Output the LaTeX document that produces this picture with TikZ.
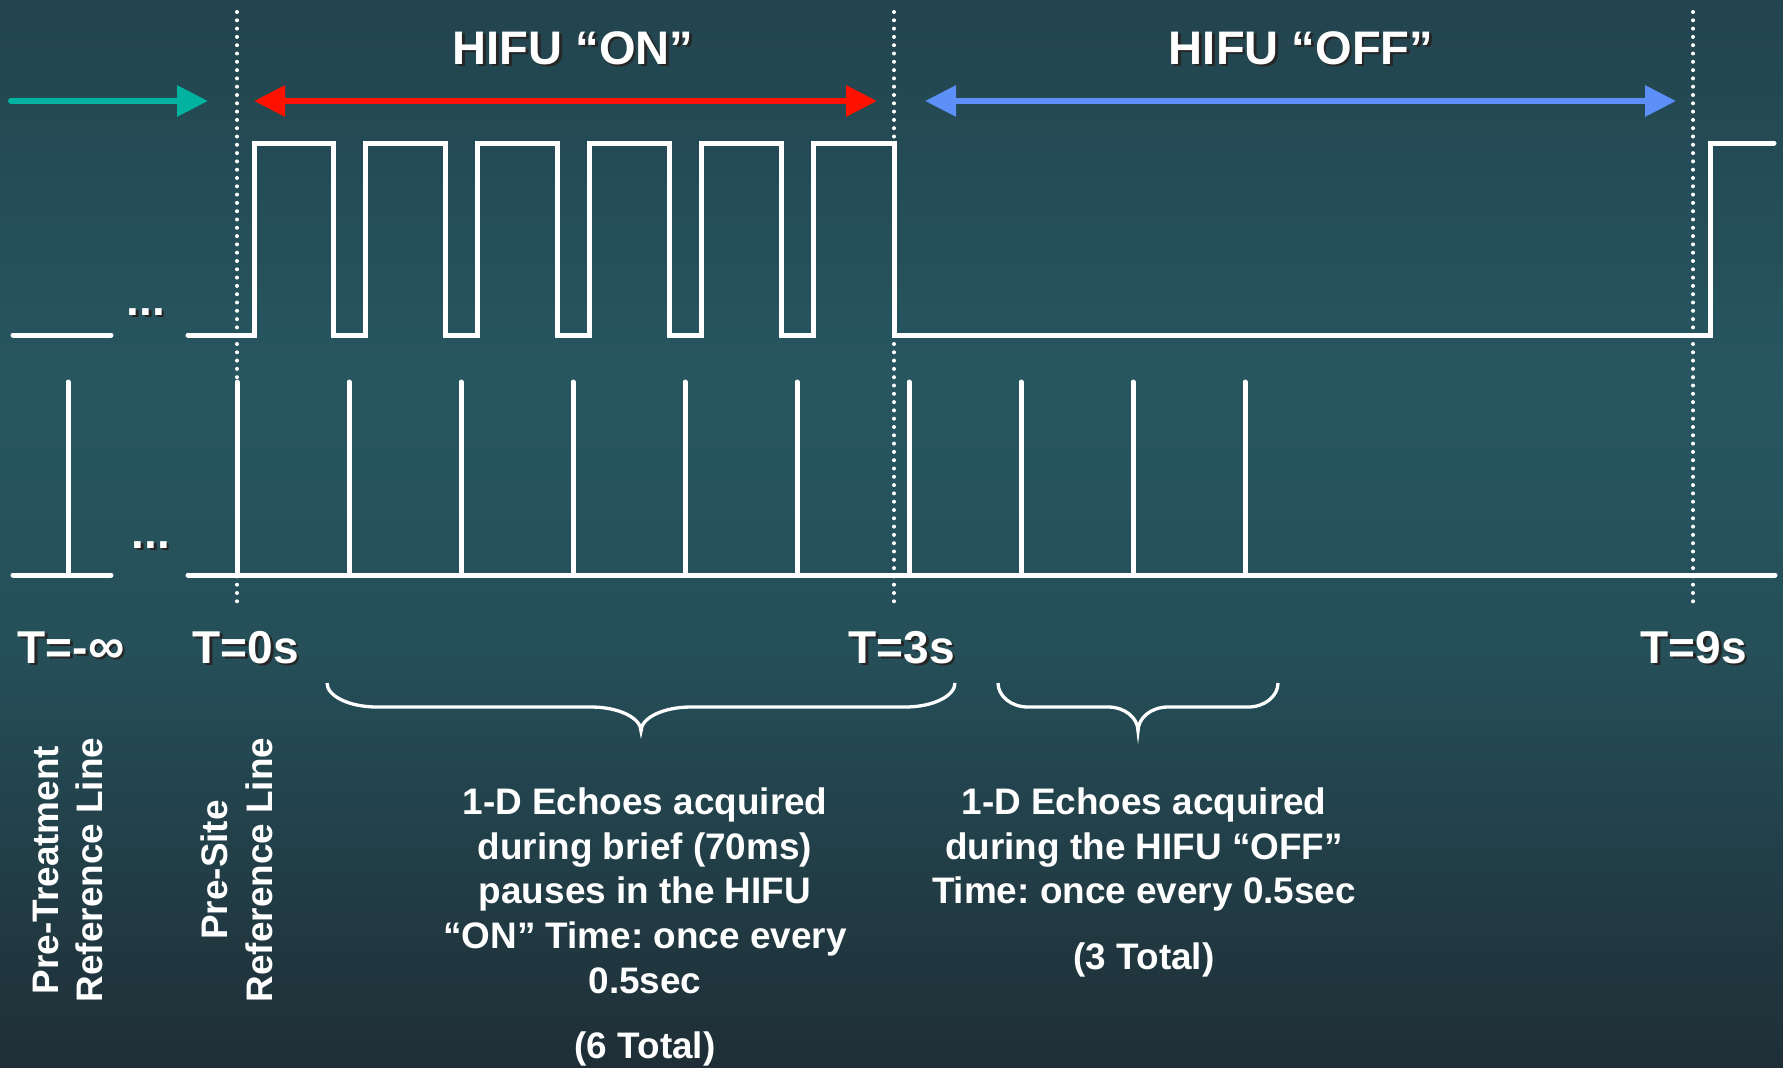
\documentclass[tikz,border=0pt]{standalone}
\usepackage{fontspec}
\setmainfont{Liberation Sans}
\usepackage{xcolor}
\usepackage{tikz}
\usetikzlibrary{arrows.meta}

\definecolor{bgtop}{RGB}{34,68,78}
\definecolor{bgmid}{RGB}{39,86,96}
\definecolor{bglow}{RGB}{37,79,89}
\definecolor{bgbot}{RGB}{31,46,54}
\definecolor{onred}{RGB}{255,17,0}
\definecolor{offblue}{RGB}{92,143,248}
\definecolor{preteal}{RGB}{0,178,160}

\newcommand{\shadowed}[1]{\rlap{\kern0.25mm\raisebox{-0.25mm}{\color{black!85}#1}}#1}
\frenchspacing

\begin{document}
\begin{tikzpicture}[
    x=0.1mm, y=-0.1mm,
    >={Triangle[length=3.1mm,width=3mm]},
    wave/.style={white, line width=0.5mm, line cap=round},
    marker/.style={white, line width=0.4mm, line cap=round, dash pattern=on 0pt off 0.83mm},
    span/.style={line width=0.6mm},
    brace/.style={white, line width=0.33mm},
    title/.style={white, font=\fontsize{13.4}{16}\selectfont\bfseries, inner sep=0pt, anchor=base},
    tlabel/.style={white, font=\fontsize{13.1}{16}\selectfont\bfseries, inner sep=0pt, anchor=base west},
    note/.style={white, font=\fontsize{10.5}{12.7}\selectfont\bfseries, align=center, inner sep=0pt}
  ]

    % background
    \shade [top color=bgtop, bottom color=bgmid] (0,0) rectangle (1783,380);
    \shade [top color=bgmid, bottom color=bglow] (0,380) rectangle (1783,650);
    \shade [top color=bglow, bottom color=bgbot] (0,650) rectangle (1783,1067);
    \useasboundingbox (0,0) rectangle (1783,1067);

    \node [title] (ontitle) at (573,64) {\shadowed{HIFU “ON”}};
    \node [title] (offtitle) at (1301,64) {\shadowed{HIFU “OFF”}};

    \draw [span, preteal, line cap=round, ->] (11,101) -- (208,101);
    \draw [span, onred, <->] (254,101) -- (877,101);
    \draw [span, offblue, <->] (925,101) -- (1676,101);

    \foreach \t in {237,894,1693}
      \draw [marker] (\t,12) -- (\t,607);

    % HIFU drive
    \draw [wave] (13,335) -- (111,335);
    \draw [wave] (188,335) -- (254,335) -- (254,143)
      \foreach \c in {349,461,573,685,797} {
        -- (\c-16,143) -- (\c-16,335) -- (\c+16,335) -- (\c+16,143)
      }
      -- (894,143) -- (894,335) -- (1710,335) -- (1710,143) -- (1774,143);

    % echo lines
    \draw [wave] (13,575) -- (111,575) (68,575) -- (68,382);
    \draw [wave] (188,575) -- (1775,575);
    \foreach \k in {0,...,9}
      \draw [wave] (237+112*\k,575) -- (237+112*\k,382);

    \node [tlabel] (gapa) at (126,315) {\shadowed{...}};
    \node [tlabel] (gapb) at (131,548) {\shadowed{...}};

    \node [tlabel] (tinf) at (17,663) {\shadowed{T=-{\fontsize{14.5}{16}\selectfont∞}}};
    \node [tlabel] (tzero) at (192,663) {\shadowed{T=0s}};
    \node [tlabel] (tthree) at (848,663) {\shadowed{T=3s}};
    \node [tlabel] (tnine) at (1640,663) {\shadowed{T=9s}};

    \draw [brace] (327,683) .. controls (327,696) and (349,707) .. (377,707) -- (591,707)
      .. controls (619,707) and (641,718) .. (641,731)
      .. controls (641,718) and (663,707) .. (691,707) -- (905,707)
      .. controls (933,707) and (955,696) .. (955,683);
    \draw [brace] (998,683) .. controls (998,696) and (1011,707) .. (1028,707) -- (1108,707)
      .. controls (1125,707) and (1138,718) .. (1138,731)
      .. controls (1138,718) and (1151,707) .. (1168,707) -- (1248,707)
      .. controls (1265,707) and (1278,696) .. (1278,683);

    \node [note, anchor=north] (onnote) at (645,787)
      {1-D Echoes acquired\\during brief (70ms)\\pauses in the HIFU\\“ON” Time: once every\\0.5sec\\[6pt](6 Total)};
    \node [note, anchor=north] (offnote) at (1144,787)
      {1-D Echoes acquired\\during the HIFU “OFF”\\Time: once every 0.5sec\\[6pt](3 Total)};

    \node [note, rotate=90] (pretreat) at (68,870) {Pre-Treatment\\Reference Line};
    \node [note, rotate=90] (presite) at (237,870) {Pre-Site\\Reference Line};

  \end{tikzpicture}
\end{document}
